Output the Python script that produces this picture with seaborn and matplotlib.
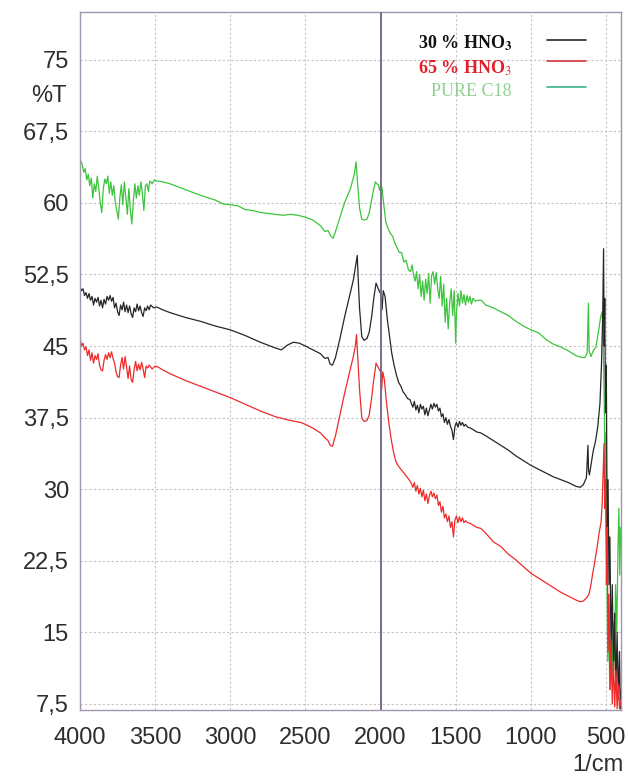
import matplotlib
matplotlib.use("Agg")
import matplotlib.pyplot as plt
from matplotlib.ticker import MultipleLocator, FixedLocator, FixedFormatter
import pandas as pd
import seaborn as sns

# ---- FTIR transmission spectra (wavenumber in 1/cm, transmittance in %T) ----
pure_wn = [4000, 3985, 3975, 3965, 3955, 3945, 3935, 3925, 3915, 3905, 3895, 3885, 3875, 3865,
           3855, 3845, 3835, 3825, 3815, 3805, 3795, 3785, 3775, 3765, 3755, 3745, 3735, 3725,
           3715, 3705, 3695, 3685, 3675, 3665, 3655, 3645, 3635, 3625, 3615, 3605, 3595, 3585,
           3575, 3565, 3555, 3545, 3535, 3520, 3505, 3490, 3450, 3400, 3300, 3200, 3100, 3050,
           3000, 2950, 2900, 2850, 2800, 2750, 2700, 2650, 2600, 2550, 2500, 2450, 2400, 2370,
           2350, 2330, 2315, 2300, 2270, 2240, 2200, 2175, 2163, 2155, 2140, 2125, 2110, 2090,
           2075, 2060, 2045, 2035, 2025, 2015, 2005, 1998, 1990, 1980, 1965, 1950, 1935, 1920,
           1905, 1890, 1875, 1860, 1845, 1830, 1815, 1800, 1790, 1780, 1770, 1760, 1750, 1740,
           1730, 1720, 1710, 1700, 1690, 1680, 1670, 1660, 1650, 1640, 1630, 1620, 1610, 1600,
           1590, 1580, 1570, 1560, 1550, 1540, 1530, 1520, 1510, 1500, 1495, 1485, 1475, 1465,
           1455, 1445, 1435, 1425, 1415, 1405, 1395, 1385, 1370, 1350, 1330, 1300, 1250, 1200,
           1150, 1100, 1050, 1000, 950, 900, 850, 800, 750, 700, 660, 640, 625, 617, 612, 600,
           585, 567, 550, 535, 525, 518, 512, 506, 500, 494, 488, 482, 475, 468, 460, 452, 444,
           436, 428, 420, 414, 408, 403, 400]
pure_t = [64.6, 64.0, 63.2, 63.6, 62.4, 63.0, 61.8, 62.6, 60.5, 62.0, 61.2, 62.8, 61.5, 60.0,
          59.0, 61.5, 62.5, 62.0, 62.8, 61.0, 62.2, 60.8, 61.8, 60.0, 59.2, 58.3, 60.5, 61.9,
          59.8, 62.2, 60.6, 58.8, 61.5, 59.2, 57.8, 60.2, 62.0, 60.5, 61.8, 60.8, 62.2, 61.0,
          59.2, 61.8, 62.0, 61.2, 62.3, 62.0, 62.4, 62.3, 62.2, 62.0, 61.4, 60.8, 60.3, 59.9,
          59.8, 59.7, 59.3, 59.2, 59.0, 58.9, 58.8, 58.7, 58.8, 58.7, 58.5, 58.2, 57.6, 57.0,
          57.1, 56.5, 56.3, 57.0, 58.5, 60.0, 61.5, 63.0, 64.3, 62.5, 59.5, 58.3, 58.2, 58.3,
          59.0, 60.3, 61.5, 62.2, 62.0, 61.9, 61.3, 62.0, 61.5, 60.0, 58.0, 57.3, 56.8, 56.5,
          55.8, 55.3, 54.8, 54.8, 53.8, 54.0, 53.0, 52.8, 53.5, 52.4, 51.8, 52.8, 51.0, 52.5,
          50.2, 51.8, 49.8, 52.0, 50.5, 52.6, 49.5, 52.4, 52.8, 51.5, 52.7, 51.0, 50.0, 52.3,
          49.2, 51.5, 47.5, 50.0, 46.8, 49.5, 51.0, 48.2, 50.8, 45.3, 48.5, 50.5, 49.2, 50.8,
          49.5, 50.4, 49.3, 50.3, 49.6, 50.2, 49.4, 50.0, 49.7, 49.8, 49.8, 49.3, 49.0, 48.6,
          48.2, 47.6, 47.1, 46.7, 46.4, 45.7, 45.2, 44.9, 44.5, 44.0, 43.8, 43.8, 44.3, 49.5,
          44.5, 43.9, 44.5, 44.9, 46.5, 48.1, 48.6, 45.0, 40.0, 30.0, 36.0, 22.0, 12.0, 18.0,
          9.0, 14.0, 10.0, 16.0, 12.0, 20.0, 15.0, 24.0, 28.0, 21.0, 26.0, 24.0]

hno3_30_wn = [4000, 3990, 3980, 3970, 3960, 3950, 3940, 3930, 3920, 3910, 3900, 3890, 3880,
              3870, 3860, 3850, 3840, 3830, 3820, 3810, 3800, 3790, 3780, 3770, 3760, 3750,
              3740, 3730, 3720, 3710, 3700, 3690, 3680, 3670, 3660, 3650, 3640, 3630, 3620,
              3610, 3600, 3590, 3580, 3570, 3560, 3550, 3540, 3530, 3510, 3490, 3450, 3400,
              3300, 3200, 3100, 3000, 2900, 2800, 2700, 2660, 2620, 2580, 2540, 2500, 2450,
              2400, 2370, 2350, 2335, 2320, 2300, 2270, 2240, 2210, 2180, 2165, 2155, 2150,
              2140, 2125, 2110, 2090, 2075, 2060, 2045, 2030, 2020, 2010, 2000, 1990, 1982,
              1970, 1955, 1940, 1925, 1910, 1895, 1880, 1865, 1850, 1835, 1820, 1805, 1795,
              1785, 1775, 1765, 1755, 1745, 1735, 1725, 1715, 1705, 1695, 1685, 1675, 1665,
              1655, 1645, 1635, 1625, 1615, 1605, 1595, 1585, 1575, 1565, 1555, 1545, 1535,
              1525, 1515, 1505, 1495, 1485, 1475, 1465, 1455, 1445, 1435, 1420, 1400, 1380,
              1360, 1333, 1300, 1250, 1200, 1150, 1100, 1050, 1000, 950, 900, 850, 800, 750,
              700, 670, 650, 630, 620, 616, 610, 600, 585, 570, 555, 540, 530, 522, 516, 512,
              508, 503, 498, 492, 486, 480, 474, 466, 458, 450, 442, 434, 426, 418, 410, 404,
              400]
hno3_30_t = [51.2, 50.8, 51.0, 50.3, 50.6, 50.0, 50.5, 49.8, 50.2, 49.3, 50.0, 49.6, 50.1,
             49.2, 49.8, 49.0, 49.9, 49.4, 50.2, 49.8, 50.3, 49.7, 50.1, 49.0, 49.5, 48.6,
             48.2, 49.3, 48.8, 49.6, 48.6, 49.3, 48.5, 49.2, 48.4, 48.0, 49.0, 48.6, 49.4,
             48.7, 49.2, 48.5, 48.1, 49.0, 48.7, 49.2, 48.8, 49.3, 49.0, 49.1, 48.8, 48.5,
             48.0, 47.6, 47.1, 46.7, 46.1, 45.4, 44.8, 44.6, 45.1, 45.4, 45.3, 45.0, 44.6,
             44.2, 43.7, 43.8, 43.1, 43.0, 43.8, 45.8, 48.0, 50.0, 52.0, 53.5, 54.5, 52.5,
             49.0, 46.0, 45.6, 45.8, 46.5, 48.0, 50.0, 51.6, 51.2, 50.8, 50.5, 48.8, 50.8,
             50.2, 47.8, 46.0, 44.2, 43.0, 42.0, 41.2, 40.8, 40.2, 39.9, 39.5, 39.4, 39.0,
             38.6, 39.2, 38.3, 38.8, 38.0, 38.9, 38.4, 38.7, 37.8, 38.5, 37.7, 38.3, 38.9,
             38.4, 39.0, 38.6, 38.9, 38.2, 38.5, 37.6, 37.9, 37.0, 37.5, 36.8, 37.3, 36.6,
             36.2, 35.2, 36.6, 37.0, 36.5, 37.1, 36.7, 37.0, 36.6, 36.8, 36.5, 36.4, 36.2,
             36.0, 35.9, 35.6, 35.1, 34.6, 34.1, 33.5, 33.0, 32.5, 32.1, 31.7, 31.3, 31.0, 30.7,
             30.3, 30.2, 30.5, 31.2, 34.6, 32.0, 31.5, 32.5, 34.0, 35.0, 36.5, 39.0, 43.0,
             48.0, 55.2, 45.0, 50.0, 38.0, 43.0, 26.0, 31.0, 20.0, 25.0, 13.0, 20.0, 11.0,
             17.0, 9.0, 15.0, 8.0, 13.0, 7.0, 9.0]

hno3_65_wn = [4000, 3990, 3980, 3970, 3960, 3950, 3940, 3930, 3920, 3910, 3900, 3890, 3880,
              3870, 3860, 3850, 3840, 3830, 3820, 3810, 3800, 3790, 3780, 3770, 3760, 3750,
              3740, 3730, 3720, 3710, 3700, 3690, 3680, 3670, 3660, 3650, 3640, 3630, 3620,
              3610, 3600, 3590, 3580, 3570, 3560, 3550, 3540, 3520, 3500, 3480, 3450, 3400,
              3300, 3200, 3100, 3000, 2900, 2800, 2700, 2600, 2533, 2500, 2450, 2400, 2370,
              2350, 2335, 2320, 2300, 2270, 2240, 2210, 2180, 2168, 2160, 2152, 2140, 2125,
              2110, 2090, 2075, 2060, 2045, 2030, 2020, 2010, 2000, 1993, 1985, 1975, 1960,
              1945, 1930, 1915, 1900, 1885, 1870, 1850, 1830, 1810, 1795, 1785, 1775, 1765,
              1755, 1745, 1735, 1725, 1715, 1705, 1695, 1685, 1675, 1665, 1655, 1645, 1635,
              1625, 1615, 1605, 1595, 1585, 1575, 1565, 1555, 1545, 1535, 1525, 1515, 1505,
              1495, 1485, 1475, 1465, 1455, 1445, 1435, 1420, 1400, 1380, 1360, 1333, 1300,
              1250, 1200, 1150, 1100, 1050, 1000, 950, 900, 850, 800, 750, 700, 670, 650, 630,
              613, 600, 590, 580, 560, 545, 533, 525, 518, 513, 508, 503, 497, 492, 486, 480,
              472, 466, 458, 450, 442, 434, 426, 418, 410, 400]
hno3_65_t = [45.9, 45.0, 45.3, 44.6, 44.9, 44.0, 44.6, 43.5, 44.3, 43.2, 44.0, 43.6, 44.2,
             43.0, 42.5, 42.4, 43.5, 44.1, 43.6, 44.3, 43.8, 44.4, 43.7, 43.2, 42.3, 41.8,
             41.7, 43.0, 43.8, 42.6, 43.9, 42.8, 41.6, 42.9, 41.5, 41.2, 42.5, 43.4, 42.4,
             43.1, 42.5, 43.3, 42.6, 41.7, 42.9, 42.7, 43.0, 42.6, 42.9, 42.8, 42.5, 42.1,
             41.4, 40.8, 40.2, 39.6, 38.9, 38.2, 37.6, 37.2, 37.0, 36.8, 36.4, 35.9, 35.4,
             35.1, 34.6, 34.5, 35.6, 37.8, 40.0, 42.0, 44.0, 45.0, 46.2, 44.0, 40.5, 37.5,
             37.1, 37.2, 37.8, 39.5, 41.5, 43.2, 42.9, 42.6, 42.3, 40.4, 42.3, 41.5, 39.0,
             37.0, 35.3, 34.0, 33.0, 32.5, 32.2, 31.8, 31.4, 31.0, 30.6, 30.2, 30.7, 29.8,
             30.4, 29.5, 30.1, 29.2, 29.9, 28.8, 29.5, 28.5, 29.3, 29.8, 29.2, 29.6, 29.0,
             29.4, 28.3, 28.7, 27.6, 28.2, 27.0, 27.4, 26.6, 27.2, 26.0, 26.6, 25.0, 26.8,
             27.2, 26.5, 27.1, 26.6, 27.0, 26.5, 26.7, 26.5, 26.4, 26.2, 26.0, 25.9, 25.4,
             24.5, 24.0, 23.2, 22.6, 21.9, 21.2, 20.7, 20.2, 19.7, 19.2, 18.8, 18.4, 18.2,
             18.3, 18.6, 19.0, 20.0, 21.0, 21.9, 23.8, 25.5, 26.5, 28.5, 32.0, 34.8, 28.0,
             31.0, 20.0, 26.0, 13.0, 19.0, 9.0, 14.0, 7.5, 12.0, 7.2, 11.0, 7.0, 9.5, 7.0, 8.0]

samples = ["PURE C18", "30 % HNO3", "65 % HNO3"]
line_colors = ["#3cc43c", "#262626", "#ee2a2a"]
legend_line_colors = ["#262626", "#d0343c", "#3cb48c"]

yticks = [7.5, 15, 22.5, 30, 37.5, 45, 52.5, 60, 67.5, 75]
ytick_labels = ["7,5", "15", "22,5", "30", "37,5", "45", "52,5", "60", "67,5", "75"]
xticks = [4000, 3500, 3000, 2500, 2000, 1500, 1000, 500]

frames = []
for name, wn, t in [(samples[0], pure_wn, pure_t),
                    (samples[1], hno3_30_wn, hno3_30_t),
                    (samples[2], hno3_65_wn, hno3_65_t)]:
    frames.append(pd.DataFrame({"wn": wn, "T": t, "sample": name}))
df = pd.concat(frames, ignore_index=True)

sns.set_style("white")
plt.rcParams["font.family"] = ["Liberation Sans", "DejaVu Sans"]
plt.rcParams["mathtext.fontset"] = "stix"

spine_col = "#a296ae"
label_col = "#2e2e2e"

fig = plt.figure(figsize=(6.28, 7.78), dpi=100)
ax = fig.add_axes([80 / 628, 68 / 778, 541 / 628, 698 / 778])

sns.lineplot(data=df, x="wn", y="T", hue="sample", hue_order=samples,
             palette=dict(zip(samples, line_colors)), estimator=None, sort=False,
             linewidth=0.9, legend=False, ax=ax)

ax.set_xlim(4000, 400)
ax.set_ylim(6.87, 80.0)

ax.xaxis.set_major_locator(FixedLocator(xticks))
ax.xaxis.set_minor_locator(MultipleLocator(100))
ax.yaxis.set_major_locator(FixedLocator(yticks))
ax.yaxis.set_major_formatter(FixedFormatter(ytick_labels))
ax.yaxis.set_minor_locator(MultipleLocator(1.5))

ax.grid(True, which="major", color="#c4c4c4", linestyle=(0, (2, 2)), linewidth=0.8)
ax.set_axisbelow(True)

for s in ax.spines.values():
    s.set_color(spine_col)
    s.set_linewidth(1.0)

ax.tick_params(axis="both", which="major", colors=spine_col, labelcolor=label_col,
               labelsize=17, direction="out")
ax.tick_params(axis="x", which="major", length=10, width=1.0, pad=2)
ax.tick_params(axis="x", which="minor", length=6, width=1.0, direction="out", colors=spine_col)
ax.tick_params(axis="y", which="major", length=7, width=1.0, pad=1)
ax.tick_params(axis="y", which="minor", length=5, width=1.0, direction="inout", colors=spine_col)

ax.set_xlabel("")
ax.set_ylabel("")

# marker line at 2000 1/cm
ax.axvline(2000, color="#7c6e8a", linewidth=1.4, zorder=3)

# axis unit labels
ax.text(-0.024, (71.25 - 6.87) / (80.0 - 6.87), "%T", transform=ax.transAxes,
        ha="right", va="center", fontsize=17, color=label_col)
fig.text(624 / 628, 1 - 765 / 778, "1/cm", ha="right", va="center", fontsize=17,
         color=label_col)

# legend: label text followed by a short line sample
legend_rows = [
    (r"30 % HNO$_\mathbf{3}$", "#111111", "bold", 0.9556, 0.960, legend_line_colors[0]),
    (r"65 % HNO$_3$", "#e0202a", "bold", 0.9198, 0.930, legend_line_colors[1]),
    ("PURE C18", "#8fd08f", "normal", 0.8854, 0.8926, legend_line_colors[2]),
]
for txt, col, weight, ty, ly, lcol in legend_rows:
    ax.text(0.7985, ty, txt, transform=ax.transAxes, ha="right", va="center",
            fontsize=13, color=col, fontweight=weight,
            family=["Liberation Serif", "DejaVu Serif"])
    ax.plot([0.863, 0.935], [ly, ly], transform=ax.transAxes, color=lcol, linewidth=1.2)

fig.savefig("out.png", dpi=100, facecolor="white")
